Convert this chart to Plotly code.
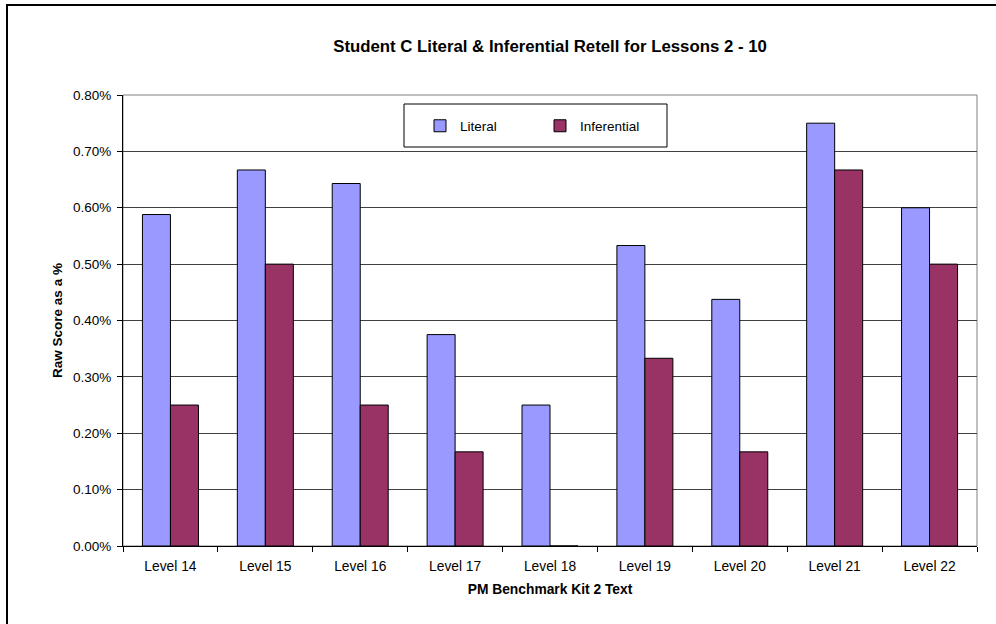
import plotly.graph_objects as go

# Retell scores per PM Benchmark level (values in percent units)
levels = ["Level 14", "Level 15", "Level 16", "Level 17", "Level 18",
          "Level 19", "Level 20", "Level 21", "Level 22"]
literal = [0.588, 0.667, 0.643, 0.375, 0.25, 0.533, 0.4375, 0.75, 0.60]
inferential = [0.25, 0.50, 0.25, 0.167, 0.0, 0.333, 0.167, 0.667, 0.50]

y_ticks = [0.0, 0.1, 0.2, 0.3, 0.4, 0.5, 0.6, 0.7, 0.8]
y_tick_text = ["0.00%", "0.10%", "0.20%", "0.30%", "0.40%",
               "0.50%", "0.60%", "0.70%", "0.80%"]

FONT = "Liberation Sans, Arial, sans-serif"

fig = go.Figure()
fig.add_trace(go.Bar(
    name="Literal", x=levels, y=literal,
    marker=dict(color="#9999FF", line=dict(color="#000000", width=1)),
))
fig.add_trace(go.Bar(
    name="Inferential", x=levels, y=inferential,
    marker=dict(color="#993366", line=dict(color="#000000", width=1)),
))

W, H = 996, 624
L, R, T, B = 123, 19, 95, 78
pw, ph = W - L - R, H - T - B


def px_x(x):
    return (x - L) / pw


def px_y(y):
    return (H - B - y) / ph


shapes = [
    # outer chart frame
    dict(type="rect", xref="paper", yref="paper",
         x0=px_x(7), x1=px_x(1010), y0=px_y(640), y1=px_y(5),
         line=dict(color="#000000", width=2), layer="below"),
    # plot-area border
    dict(type="rect", xref="paper", yref="paper",
         x0=0, x1=1, y0=0, y1=1,
         line=dict(color="#808080", width=1), layer="below"),
    # legend box
    dict(type="rect", xref="paper", yref="paper",
         x0=px_x(404), x1=px_x(667), y0=px_y(147), y1=px_y(104),
         line=dict(color="#000000", width=1), fillcolor="#FFFFFF",
         layer="above"),
]

fig.update_layout(
    width=W, height=H,
    margin=dict(l=L, r=R, t=T, b=B),
    paper_bgcolor="#FFFFFF", plot_bgcolor="#FFFFFF",
    font=dict(family=FONT, size=13.5, color="#000000"),
    barmode="group", bargap=0.41, bargroupgap=0.0,
    title=dict(
        text="<b>Student C Literal & Inferential Retell for Lessons 2 - 10</b>",
        x=0.5, xref="paper", xanchor="center",
        y=1 - 46 / H, yref="container", yanchor="middle",
        font=dict(family=FONT, size=16.8, color="#000000"),
    ),
    xaxis=dict(
        showline=True, linecolor="#000000", linewidth=1,
        ticks="outside", ticklen=5, tickcolor="#000000",
        tickson="boundaries", showgrid=False,
        ticklabelstandoff=7,
        tickfont=dict(family=FONT, size=13.8),
        title=dict(text="<b>PM Benchmark Kit 2 Text</b>", standoff=11,
                   font=dict(family=FONT, size=13.8)),
    ),
    yaxis=dict(
        range=[0, 0.8], tickvals=y_ticks, ticktext=y_tick_text,
        showline=True, linecolor="#000000", linewidth=1,
        ticks="outside", ticklen=5, tickcolor="#000000",
        showgrid=True, gridcolor="#404040", gridwidth=1,
        zeroline=False, ticklabelstandoff=3,
        tickfont=dict(family=FONT, size=13.5),
        title=dict(text="<b>Raw Score as a %</b>", standoff=7,
                   font=dict(family=FONT, size=13.5)),
    ),
    legend=dict(
        orientation="h", x=px_x(420), y=px_y(126),
        xanchor="left", yanchor="middle",
        bgcolor="rgba(0,0,0,0)", borderwidth=0,
        entrywidth=75, itemwidth=30,
        font=dict(family=FONT, size=13.5),
        traceorder="normal",
    ),
    shapes=shapes,
)

fig.write_html("out.html")
